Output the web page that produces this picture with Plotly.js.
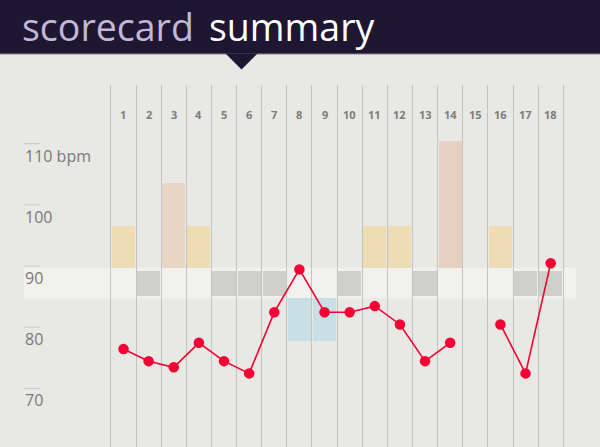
<!DOCTYPE html>
<html>
<head>
<meta charset="utf-8">
<script src="https://cdn.plot.ly/plotly-3.0.1.min.js"></script>
<style>html,body{margin:0;padding:0;background:#e8e8e4;}#chart{width:600px;height:447px;}</style>
</head>
<body>
<div id="chart"></div>
<script>
// ---- data ----
var holes = [1,2,3,4,5,6,7,8,9,10,11,12,13,14,15,16,17,18];
var heartRate = [77,75,74,78,75,73,83,90,83,83,84,81,75,78,null,81,73,91];
var scoreToPar = [1,0,2,1,0,0,0,-1,-1,0,1,1,0,3,null,1,0,0];
var bpmTicks = [110,100,90,80,70];
var bpmTickLabels = ['110 bpm','100','90','80','70'];
var titleMuted = 'scorecard';
var titleMain = 'summary';

// ---- styles / geometry ----
var BG = '#e8e8e4';
var bandHalfTop = 0.367, bandHalfBottom = 0.358, parHalf = 0.30;
var tickOffset = 0.55;
var colorFor = function(s){
  if (s === 0) return '#cfcfcc';
  if (s < 0) return '#c8dfe6';
  if (s === 1) return '#eedcb5';
  if (s === 2) return '#e8d7c4';
  return '#e5d0c2';
};

var barX = [], barY = [], barBase = [], barColor = [];
scoreToPar.forEach(function(s, i){
  if (s === null) return;
  barX.push(holes[i]);
  barColor.push(colorFor(s));
  if (s > 0) { barBase.push(bandHalfTop); barY.push(s); }
  else if (s < 0) { barBase.push(-bandHalfBottom); barY.push(s); }
  else { barBase.push(-parHalf); barY.push(2*parHalf); }
});

var traces = [
  {type:'bar', x: barX, y: barY, base: barBase, width: 0.92,
   marker:{color: barColor, line:{width:0}}, xaxis:'x', yaxis:'y', hoverinfo:'skip'},
  {type:'scatter', mode:'lines+markers', x: holes, y: heartRate, connectgaps:false,
   line:{color:'#f70034', width:1.6}, marker:{color:'#f70034', size:10.5},
   xaxis:'x', yaxis:'y2', hoverinfo:'skip'}
];

var px = function(p){ return (p - 24) / 552; };
var py = function(p){ return (447 - p) / 362; };

var shapes = [
  {type:'rect', xref:'paper', yref:'y', x0:0, x1:1, y0:-bandHalfBottom, y1:bandHalfTop,
   fillcolor:'#f1f1ee', line:{width:0}, layer:'below'},
  {type:'rect', xref:'paper', yref:'paper', x0:px(-5), x1:px(605), y0:py(54), y1:py(-5),
   fillcolor:'#1f1631', line:{width:0}},
  {type:'line', xref:'paper', yref:'paper', x0:px(-5), x1:px(605), y0:py(54), y1:py(54),
   line:{color:'#8a8098', width:1}},
  {type:'path', xref:'paper', yref:'paper',
   path:'M'+px(225.5)+','+py(53.5)+' L'+px(257.5)+','+py(53.5)+' L'+px(241.5)+','+py(69.5)+' Z',
   fillcolor:'#1f1631', line:{width:0}}
];
bpmTicks.forEach(function(v){
  shapes.push({type:'line', xref:'paper', yref:'y2', x0:0, x1:px(40), y0:v+tickOffset, y1:v+tickOffset,
    line:{color:'#c9c9c5', width:1}});
});

var annotations = [];
bpmTicks.forEach(function(v, i){
  annotations.push({xref:'paper', yref:'y2', x:0, y:v+tickOffset, xanchor:'left', yanchor:'top',
    yshift:1, xshift:-1, showarrow:false, text:bpmTickLabels[i],
    font:{family:'Open Sans', size:16, color:'#7a7a78'}});
});
holes.forEach(function(h){
  annotations.push({xref:'x', yref:'paper', x:h, y:py(114.5), yanchor:'middle', xanchor:'center',
    showarrow:false, text:'<b>'+h+'</b>', font:{family:'Open Sans', size:11, color:'#7c7c7a'}});
});
annotations.push({xref:'paper', yref:'paper', x:px(20), y:py(26.5), xanchor:'left', yanchor:'middle',
  showarrow:false, text:titleMuted, font:{family:'Open Sans', size:37.5, color:'#c3b7d9'}});
annotations.push({xref:'paper', yref:'paper', x:px(207), y:py(26.5), xanchor:'left', yanchor:'middle',
  showarrow:false, text:titleMain, font:{family:'Open Sans', size:37.5, color:'#ffffff'}});

var layout = {
  width:600, height:447,
  margin:{l:24, r:24, t:85, b:0, pad:0},
  paper_bgcolor:BG, plot_bgcolor:BG,
  showlegend:false,
  bargap:0,
  xaxis:{range:[-2.959, 19.007], tickvals:holes.map(function(h){return h-0.5;}).concat([18.5]),
         showticklabels:false, ticks:'', showgrid:true, gridcolor:'#c3c3bf', gridwidth:1,
         zeroline:false, showline:false, fixedrange:true},
  yaxis:{range:[-3.881, 4.697], visible:false, showgrid:false, zeroline:false, fixedrange:true},
  yaxis2:{range:[60.97, 120.14], overlaying:'y', visible:false, showgrid:false, zeroline:false, fixedrange:true},
  shapes:shapes,
  annotations:annotations
};

Plotly.newPlot('chart', traces, layout, {displayModeBar:false, staticPlot:true});
</script>
</body>
</html>
